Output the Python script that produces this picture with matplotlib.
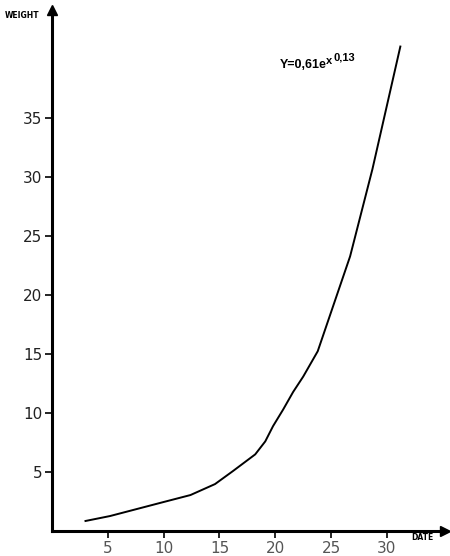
import matplotlib.pyplot as plt
import numpy as np

# Values
date = [3.0, 5.2, 10.0, 12.4, 14.6, 16.2, 18.2, 19.1, 19.8, 20.7, 21.6, 22.5, 23.8, 26.7, 28.7, 31.2]
weight = [0.85, 1.27, 2.46, 3.05, 3.98, 5.08, 6.5, 7.6, 8.9, 10.3, 11.8, 13.1, 15.25, 23.3, 30.7, 41.1]

x_ticks = [5, 10, 15, 20, 25, 30]
y_ticks = [5, 10, 15, 20, 25, 30, 35]

fig = plt.figure(figsize=(4.5, 5.56), dpi=100)
ax = fig.add_axes([52 / 450, 25 / 556, 393 / 450, 521 / 556])

ax.plot(date, weight, color='black', linewidth=1.4)

ax.set_xlim(0, 35.2)
ax.set_ylim(0, 44.2)
ax.set_xticks(x_ticks)
ax.set_yticks(y_ticks)
ax.tick_params(axis='both', length=5, width=1.2, color='black',
               labelsize=11, labelcolor='#222222', pad=2)
ax.tick_params(axis='x', labelcolor='#555555')

for side in ['top', 'right']:
    ax.spines[side].set_visible(False)
for side in ['left', 'bottom']:
    ax.spines[side].set_linewidth(2.2)

# arrow heads on the axes
ax.plot(0, 1, marker='^', color='black', markersize=7, transform=ax.transAxes, clip_on=False)
ax.plot(1, 0, marker='>', color='black', markersize=7, transform=ax.transAxes, clip_on=False)

fig.text(5 / 450, 1 - 16 / 556, 'WEIGHT', fontsize=5.5, fontweight='bold', va='center')
fig.text(411 / 450, 1 - 538 / 556, 'DATE', fontsize=5.5, fontweight='bold', va='center')

# formula, written by hand with stacked exponents
fam = ['Liberation Sans Narrow', 'Liberation Sans', 'DejaVu Sans']
ax.text(20.4, 39.3, 'Y=0,61e', fontsize=9, fontweight='bold', family=fam, va='baseline')
ax.text(24.55, 39.6, 'x', fontsize=8, fontweight='bold', family=fam, va='baseline')
ax.text(25.2, 39.95, '0,13', fontsize=8, fontweight='bold', family=fam, va='baseline')

fig.savefig('out.png', dpi=100, facecolor='white')
